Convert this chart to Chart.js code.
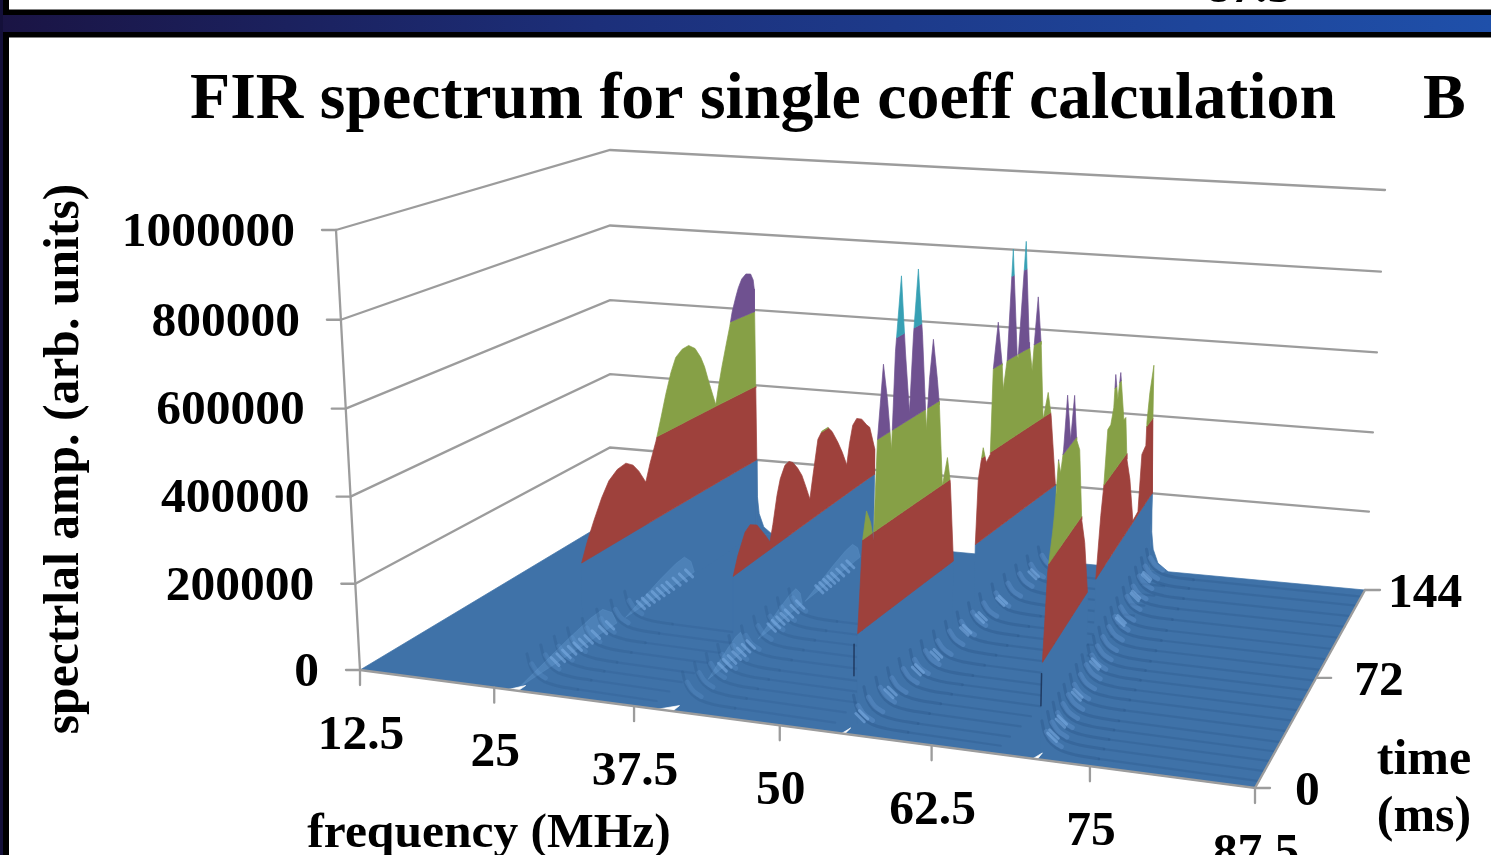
<!DOCTYPE html>
<html>
<head>
<meta charset="utf-8">
<title>FIR spectrum</title>
<script src="https://cdn.jsdelivr.net/npm/chart.js@4/dist/chart.umd.min.js"></script>
<style>
html, body { margin: 0; padding: 0; background: #000; overflow: hidden; }
canvas { display: block; }
</style>
</head>
<body>
<canvas id="firChart" width="1491" height="855"></canvas>
<script>
// axis values
const freqTicks = [12.5, 25, 37.5, 50, 62.5, 75, 87.5];
const timeTicks = [0, 72, 144];
const ampTicks = [0, 200000, 400000, 600000, 800000, 1000000];

// ridge frequency (MHz) at t=0 and t=144 ms
const ridge1 = [27.16, 28.1];
const ridge2 = [40.85, 40.75];
const ridge3 = [55.4, 58.13];
const ridge4 = [70.9, 67.4];

// ridge tops. time in ms, amp in thousands
const sheetATime = [34, 37.5, 41.6, 46, 50.2, 55, 59.9, 64, 67.3, 71.3, 74, 77.6, 81, 83.8, 87, 90, 94, 98, 102, 105.6, 108, 110.7, 115.3, 117, 119.2, 122, 124.4, 126, 128.3, 130, 132.2, 135, 138.2, 140, 140.8, 142.6, 144];
const sheetAAmp = [195, 240, 283, 325, 356, 372, 376, 362, 340, 304, 345, 390, 445, 493, 540, 572, 585, 587, 572, 543, 515, 472, 404, 445, 492, 545, 589, 625, 658, 680, 699, 708, 703, 685, 660, 395, 192];
const sheetBTime = [36.9, 40, 44.7, 48, 52.4, 57.7, 61, 63, 65.8, 68, 71.2, 74, 76.7, 80, 83.1, 86, 88.9, 91, 94.5, 97.5, 101.8, 105, 109.5, 113, 116.6, 118.5, 120.9, 124, 128, 132, 134.6, 139.1, 139.4];
const sheetBAmp = [199, 240, 283, 292, 280, 243, 218, 255, 318, 352, 377, 380, 371, 350, 325, 290, 253, 305, 388, 402, 402, 385, 348, 315, 275, 325, 367, 378, 368, 345, 333, 267, 212];
const sheetCTime = [7.2, 9.8, 12, 14.4, 16.1, 18.1, 21.3, 23.8, 26.4, 28.3, 31.5, 34.3, 37.1, 39.1, 41.7, 44.7, 47.8, 49.4, 51.6, 54.5, 56, 58.7, 61.8, 64, 66.9];
const sheetCAmp = [198, 398, 458, 426, 383, 599, 758, 675, 557, 770, 931, 757, 615, 785, 927, 774, 552, 663, 750, 652, 591, 398, 456, 392, 198];
const sheetDTime = [82.1, 83.4, 85.3, 86.5, 88.9, 91.7, 92.6, 95.5, 99.1, 100.2, 102.7, 105.3, 110.1, 110.9, 114.8, 119.1, 122, 123.6, 125.2, 128.6, 131.9, 135.4, 138.4, 144];
const sheetDAmp = [200, 354, 397, 423, 382, 395, 598, 706, 595, 534, 603, 865, 598, 592, 869, 614, 538, 631, 716, 591, 395, 457, 392, 195];
const sheetETime = [3.4, 6.8, 11.2, 13, 16, 18.6, 21.3, 24.4, 29, 32.4, 36, 39.9, 44.4, 48.8, 54.5];
const sheetEAmp = [207, 384, 457, 495, 602, 566, 609, 720, 611, 700, 593, 561, 392, 328, 183];
const sheetFTime = [64.2, 68.5, 71.4, 74.6, 78.4, 81.8, 83.2, 87, 90, 96.3, 99.1, 102.5, 107.9, 114.5, 121.9, 125, 130.8, 131.1, 134.2, 139, 140.7, 144];
const sheetFAmp = [201, 337, 399, 522, 524, 556, 631, 564, 621, 495, 494, 385, 323, 204, 208, 344, 353, 410, 479, 538, 395, 186];

// fall-off behind the last ridge samples: MHz past the ridge, amp in thousands
const backTailFreq = [0, 0.1, 0.3, 0.8, 1.8];
const backTailAmp = [200, 100, 55, 20, 0];

// low swells at the ridge feet: [start ms, end ms, peak amp in thousands]
const ridge1Swells = [[2, 55, 55], [60, 103, 55]];
const ridge2Swells = [[23, 47, 50], [55, 86, 50], [88, 131, 50]];
const swellShape = [0, 0.35, 0.7, 0.95, 1, 0.6, 0];
const swellPos = [0, 0.25, 0.5, 0.72, 0.85, 0.95, 1];

// bright flecks across each ridge foot (ms)
const ridge1Glints = [16, 19, 22, 25, 28, 31, 34, 38, 42, 46, 64, 67, 70, 73, 76, 79, 82, 86, 90, 94];
const ridge2Glints = [26, 29, 32, 35, 38, 41, 44, 58, 61, 64, 67, 70, 74, 78, 92, 95, 98, 101, 104, 108, 112, 116];
const ridge3Glints = [5, 7, 22, 24, 39, 41, 51, 53, 71, 73, 82, 84, 97, 99, 122, 124];
const ridge4Glints = [8, 10, 17, 19, 35, 37, 57, 59, 91, 93, 112, 114, 129, 131];

// ripples running off the ridges (ms)
const rippleTimes1 = [5, 12, 19, 26, 34, 42, 50, 58];
const rippleTimes2 = [6, 13, 20, 27, 34, 42, 50, 58, 66, 74];
const rippleTimes3 = [5, 11, 18, 25, 32, 39, 46, 54, 62, 70, 78, 86, 95, 104, 113, 122, 131];
const rippleTimes4 = [4, 10, 16, 22, 28, 35, 42, 49, 56, 63, 70, 78, 86, 94, 103, 112, 121, 130, 138];
const rippleFreq = [0, 0.3, 0.8, 1.5, 2.7, 4.5];
const rippleAmp = [70, 40, 22, 11, 5, 3];

const bandEdges = [0, 200, 400, 600, 800, 1000];
const bandColors = ['#3f72a8', '#9e413c', '#86a046', '#6f5190', '#37a0b4'];
const floorColor = '#3f72a8';
const gridColor = '#9c9c9c';

// perspective of the chart box, from its corners on the page
const P00 = [360, 670], P10 = [1255, 788], P11 = [1365, 590], P01 = [610, 520];
const lift00 = [-24, -440], lift10 = [19, -476], lift01 = [0, -370], lift11 = [20, -400];

const dx1 = P10[0] - P11[0], dx2 = P01[0] - P11[0], sx = P00[0] - P10[0] + P11[0] - P01[0];
const dy1 = P10[1] - P11[1], dy2 = P01[1] - P11[1], sy = P00[1] - P10[1] + P11[1] - P01[1];
const den = dx1 * dy2 - dx2 * dy1;
const hg = (sx * dy2 - dx2 * sy) / den, hh = (dx1 * sy - sx * dy1) / den;
const ha = P10[0] - P00[0] + hg * P10[0], hb = P01[0] - P00[0] + hh * P01[0];
const hd = P10[1] - P00[1] + hg * P10[1], he = P01[1] - P00[1] + hh * P01[1];

function project(freq, time, ampK) {
    const u0 = (freq - 12.5) / 75;
    const u = u0 + 0.06 * u0 * (1 - u0);
    const v = time / 144;
    const w0 = ampK / 1000;
    const w = w0 - 0.025 * w0 * (1 - w0);
    const q = hg * u + hh * v + 1;
    const mix = i => lift00[i] * (1 - u) * (1 - v) + lift10[i] * u * (1 - v) + lift01[i] * (1 - u) * v + lift11[i] * u * v;
    return {
        x: (ha * u + hb * v + P00[0]) / q + mix(0) * w,
        y: (hd * u + he * v + P00[1]) / q + mix(1) * w
    };
}

function ridgeFreq(ridge, t) {
    return ridge[0] + (ridge[1] - ridge[0]) * t / 144;
}

const layers = [];

function addShape(points, color) {
    layers.push({
        data: points.concat([points[0]]), showLine: true, fill: 'shape',
        backgroundColor: color, borderColor: color, borderWidth: 0.7, pointRadius: 0, clip: false
    });
}

function addLine(points, color, width, tension) {
    layers.push({
        data: points, showLine: true, fill: false,
        borderColor: color, borderWidth: width, borderCapStyle: 'round',
        pointRadius: 0, tension: tension || 0, clip: false
    });
}

// cut a ridge top where it meets a band edge so the colours change on the contour
function withCrossings(times, amps) {
    const out = [];
    times.forEach((t, i) => {
        out.push([t, amps[i]]);
        if (i === times.length - 1) return;
        const next = amps[i + 1];
        const edges = bandEdges.filter(e => (amps[i] < e && next > e) || (amps[i] > e && next < e));
        if (next < amps[i]) edges.reverse();
        edges.forEach(e => {
            out.push([t + (times[i + 1] - t) * (e - amps[i]) / (next - amps[i]), e]);
        });
    });
    return out;
}

function addSheet(ridge, times, amps) {
    const profile = withCrossings(times, amps);
    bandColors.forEach((color, b) => {
        const lo = bandEdges[b], hi = bandEdges[b + 1];
        let run = [];
        const flush = () => {
            if (run.length > 1) {
                const top = run.map(p => project(ridgeFreq(ridge, p[0]), p[0], Math.min(p[1], hi)));
                const low = run.map(p => project(ridgeFreq(ridge, p[0]), p[0], lo)).reverse();
                addShape(top.concat(low), color);
            }
            run = [];
        };
        profile.forEach(p => {
            if (p[1] >= lo) run.push(p); else flush();
        });
        flush();
    });
}

function addBackTail(ridge) {
    const f = ridgeFreq(ridge, 144);
    const pts = backTailFreq.map((o, i) => project(f + o, 144, backTailAmp[i]));
    addShape(pts.concat([project(f, 144, 0)]), floorColor);
}

function addSwells(ridge, swells) {
    swells.forEach(s => {
        const top = swellPos.map((p, i) => {
            const t = s[0] + (s[1] - s[0]) * p;
            return project(ridgeFreq(ridge, t) - 0.3, t, s[2] * swellShape[i]);
        });
        addShape(top, 'rgba(98,150,205,0.42)');
    });
}

function addGlints(ridge, times) {
    times.forEach(t => {
        const f = ridgeFreq(ridge, t);
        addLine([project(f + 0.2, t, 30), project(f + 0.9, t, 14)], 'rgba(125,175,230,0.55)', 3);
    });
}

function addRipples(ridge, times, reach, strength) {
    times.forEach(t => {
        const f = ridgeFreq(ridge, t);
        const near = rippleFreq.map((o, i) => project(f + o, t, rippleAmp[i]));
        const far = project(Math.min(f + reach, 87.5), t, 0);
        addLine([near[near.length - 1], far], 'rgba(38,78,128,' + 0.24 * strength + ')', 2.2);
        addLine(near, 'rgba(38,78,128,' + 0.3 * strength + ')', 3, 0.4);
        addLine(near.slice(1, 4).map(p => ({ x: p.x + 1, y: p.y - 3.5 })), 'rgba(108,160,218,' + 0.32 * strength + ')', 5, 0.4);
    });
}

// walls
ampTicks.slice(1).forEach(a => {
    const k = a / 1000;
    addLine([project(12.5, 0, k), project(12.5, 144, k), project(87.5, 144, k)], gridColor, 2.3);
});
addLine([project(12.5, 0, 0), project(12.5, 0, 1000)], gridColor, 2.3);
ampTicks.forEach(a => {
    const p = project(12.5, 0, a / 1000);
    addLine([{ x: p.x - 14, y: p.y }, p], gridColor, 2.3);
});

// floor
addShape([project(12.5, 0, 0), project(87.5, 0, 0), project(87.5, 144, 0), project(12.5, 144, 0)], floorColor);

// ridges left to right, each one hides what lies behind it
addBackTail(ridge1);
addSheet(ridge1, sheetATime, sheetAAmp);
addSwells(ridge1, ridge1Swells);
addRipples(ridge1, rippleTimes1, 11.5, 0.7);
addGlints(ridge1, ridge1Glints);

addSheet(ridge2, sheetBTime, sheetBAmp);
addSwells(ridge2, ridge2Swells);
addRipples(ridge2, rippleTimes2, 13, 0.7);
addGlints(ridge2, ridge2Glints);

addSheet(ridge3, sheetCTime, sheetCAmp);
addBackTail(ridge3);
addSheet(ridge3, sheetDTime, sheetDAmp);
addRipples(ridge3, rippleTimes3, 12, 1);
addGlints(ridge3, ridge3Glints);

addSheet(ridge4, sheetETime, sheetEAmp);
addBackTail(ridge4);
addSheet(ridge4, sheetFTime, sheetFAmp);
addRipples(ridge4, rippleTimes4, 22, 1);
addGlints(ridge4, ridge4Glints);

// seams where the ridges start at the front edge
[[ridge1, 0.9], [ridge2, 1.3], [ridge3, 0.25], [ridge4, 0.35]].forEach(r => {
    const f = r[0][0];
    addShape([project(f - r[1], 0, 0), project(f, 0, 0), project(f, 4, 0)], '#ffffff');
});
addLine([project(ridge3[0], 6, 110), project(ridge3[0], 6, 180)], 'rgba(25,45,80,0.8)', 1.5);
addLine([project(ridge4[0], 2, 110), project(ridge4[0], 2, 180)], 'rgba(25,45,80,0.8)', 1.5);

// front and right edges with their ticks
addLine([project(12.5, 0, 0), project(87.5, 0, 0), project(87.5, 144, 0)], gridColor, 2.3);
freqTicks.forEach(f => {
    const p = project(f, 0, 0);
    addLine([p, { x: p.x, y: p.y + 15 }], gridColor, 2.3);
});
timeTicks.forEach(t => {
    const p = project(87.5, t, 0);
    addLine([p, { x: p.x + 15, y: p.y }], gridColor, 2.3);
});

const serif = '"Liberation Serif", "Times New Roman", serif';

function drawLabel(ctx, text, x, y, size, align) {
    ctx.font = 'bold ' + size + 'px ' + serif;
    ctx.textAlign = align || 'center';
    ctx.textBaseline = 'middle';
    ctx.fillText(text, x, y);
}

const slidePlugin = {
    id: 'slide',
    beforeDraw(chart) {
        const ctx = chart.ctx;
        ctx.save();
        ctx.fillStyle = '#000';
        ctx.fillRect(0, 0, 1491, 855);
        const band = ctx.createLinearGradient(0, 0, 1491, 0);
        band.addColorStop(0, '#1a1444');
        band.addColorStop(0.4, '#1c2f7a');
        band.addColorStop(1, '#1f50aa');
        ctx.fillStyle = band;
        ctx.fillRect(0, 15, 1491, 17);
        ctx.fillStyle = '#14103a';
        ctx.fillRect(0, 0, 3, 855);
        ctx.fillStyle = '#fff';
        ctx.fillRect(9, 0, 1482, 9.5);
        ctx.fillRect(9, 37.5, 1482, 818);
        ctx.restore();
    },
    afterDatasetsDraw(chart) {
        const ctx = chart.ctx;
        ctx.save();
        ctx.fillStyle = '#000';

        // bottom of the slide above, cut by its frame
        ctx.save();
        ctx.beginPath();
        ctx.rect(9, 0, 1482, 9.5);
        ctx.clip();
        drawLabel(ctx, 'frequency (MHz)', 489, -24, 49);
        drawLabel(ctx, '87.5', 1249, -11, 49);
        ctx.restore();

        ctx.font = 'bold 66px ' + serif;
        ctx.textAlign = 'left';
        ctx.textBaseline = 'alphabetic';
        ctx.fillText('FIR spectrum for single coeff calculation', 190, 118, 1146);
        ctx.font = 'bold 64px ' + serif;
        ctx.fillText('B', 1423, 118);

        ampTicks.forEach(a => {
            const p = project(12.5, 0, a / 1000);
            drawLabel(ctx, String(a), p.x - 41, p.y + 3, 49.5, 'right');
        });
        freqTicks.forEach(f => {
            const p = project(f, 0, 0);
            drawLabel(ctx, String(f), p.x + 1, p.y + 66, 49.5);
        });
        const timeGap = [40, 38, 23];
        timeTicks.forEach((t, i) => {
            const p = project(87.5, t, 0);
            drawLabel(ctx, String(t), p.x + timeGap[i], p.y + 4, 49.5, 'left');
        });

        drawLabel(ctx, 'frequency (MHz)', 489, 834, 49.5);
        drawLabel(ctx, 'time', 1424, 761, 50);
        drawLabel(ctx, '(ms)', 1424, 818, 50);

        ctx.translate(65, 459);
        ctx.rotate(-Math.PI / 2);
        drawLabel(ctx, 'spectrlal amp. (arb. units)', 0, 0, 49.7);
        ctx.restore();
    }
};

new Chart(document.getElementById('firChart').getContext('2d'), {
    type: 'scatter',
    // chart.js paints the first dataset last
    data: { datasets: layers.slice().reverse() },
    options: {
        responsive: false,
        animation: false,
        events: [],
        layout: { padding: 0 },
        scales: {
            x: { type: 'linear', min: 0, max: 1491, display: false },
            y: { type: 'linear', min: 0, max: 855, reverse: true, display: false }
        },
        plugins: { legend: { display: false }, tooltip: { enabled: false } }
    },
    plugins: [slidePlugin]
});
</script>
</body>
</html>
